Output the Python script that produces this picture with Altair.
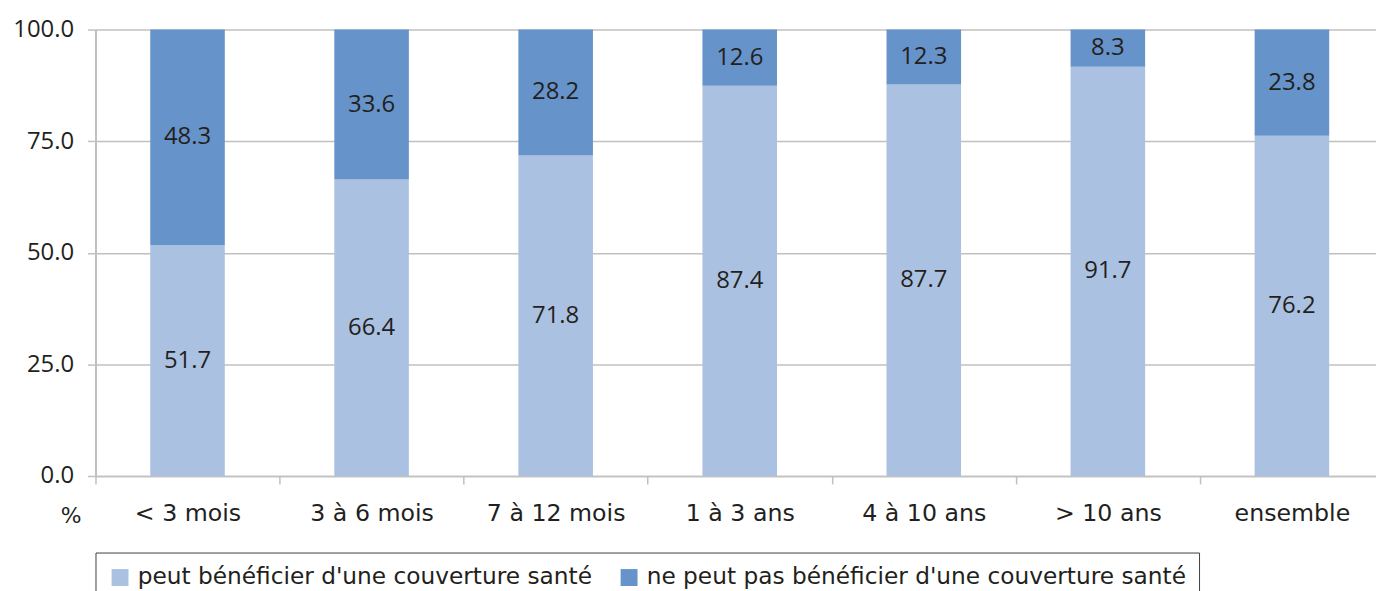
import altair as alt
import pandas as pd

categories = ["< 3 mois", "3 à 6 mois", "7 à 12 mois", "1 à 3 ans", "4 à 10 ans", "> 10 ans", "ensemble"]
peut = [51.7, 66.4, 71.8, 87.4, 87.7, 91.7, 76.2]
ne_peut = [48.3, 33.6, 28.2, 12.6, 12.3, 8.3, 23.8]
series = ["peut bénéficier d'une couverture santé", "ne peut pas bénéficier d'une couverture santé"]
colors = ["#abc1e1", "#6693c9"]

rows = []
for i, c in enumerate(categories):
    rows.append({"cat": c, "serie": series[0], "value": peut[i], "ord": 0})
    rows.append({"cat": c, "serie": series[1], "value": ne_peut[i], "ord": 1})
df = pd.DataFrame(rows)

FONT = "Open Sans"
TFONT = "DejaVu Sans"
TXT = "#231f20"
GRID = "#c0c0c0"

xscale = alt.Scale(rangeMin=0, rangeMax=1296, paddingInner=0, paddingOuter=0)

x_enc = alt.X("cat:N", sort=categories, title=None, scale=xscale,
              axis=alt.Axis(labelAngle=0, labelFont=TFONT, labelFontSize=23.8, labelColor=TXT,
                            labelPadding=18, tickBand="extent", ticks=True, tickSize=8,
                            tickColor=GRID, tickWidth=1.5, domainColor=GRID, domainWidth=1.5,
                            grid=False))

base = alt.Chart(df)

bars = base.mark_bar(size=75).encode(
    x=x_enc,
    y=alt.Y("value:Q", stack="zero",
            scale=alt.Scale(domain=[0, 100], nice=False),
            axis=alt.Axis(values=[0, 25, 50, 75, 100], format=".1f", labelFont=FONT,
                          labelFontSize=24, labelColor=TXT, labelPadding=14,
                          tickSize=8, tickColor=GRID, tickWidth=1.5,
                          domainColor=GRID, domainWidth=2,
                          gridColor=GRID, gridWidth=1.5,
                          title="%", titleAngle=0, titleFont=TFONT, titleFontSize=22,
                          titleFontWeight="normal", titleColor=TXT, titleX=-25, titleY=489,
                          titleAlign="center", titleBaseline="middle")),
    color=alt.Color("serie:N", sort=series,
                    scale=alt.Scale(domain=series, range=colors),
                    legend=alt.Legend(title=None, orient="none", legendX=0, legendY=526,
                                      direction="horizontal", symbolType="square",
                                      symbolSize=289, symbolStrokeWidth=0,
                                      labelFont=TFONT, labelFontSize=23.4, labelColor=TXT,
                                      labelLimit=700, labelOffset=6, columnPadding=25,
                                      padding=13, strokeColor="#404040",
                                      fillColor="white")),
    order=alt.Order("ord:Q"),
)

labels = base.transform_stack(
    stack="value", groupby=["cat"], as_=["y0", "y1"], sort=[alt.SortField("ord")]
).transform_calculate(
    mid="(datum.y0 + datum.y1) / 2"
).mark_text(font=FONT, fontSize=24, color=TXT, baseline="middle").encode(
    x=alt.X("cat:N", sort=categories, scale=xscale),
    y=alt.Y("mid:Q"),
    text=alt.Text("value:Q", format=".1f"),
)

chart = alt.layer(bars, labels).properties(
    width=1288, height=449,
    autosize=alt.AutoSizeParams(type="none"),
    padding={"left": 88, "top": 20, "right": 0, "bottom": 114},
).configure_view(stroke=None)

chart.save("out.html", embed_options={"renderer": "svg", "actions": False})
